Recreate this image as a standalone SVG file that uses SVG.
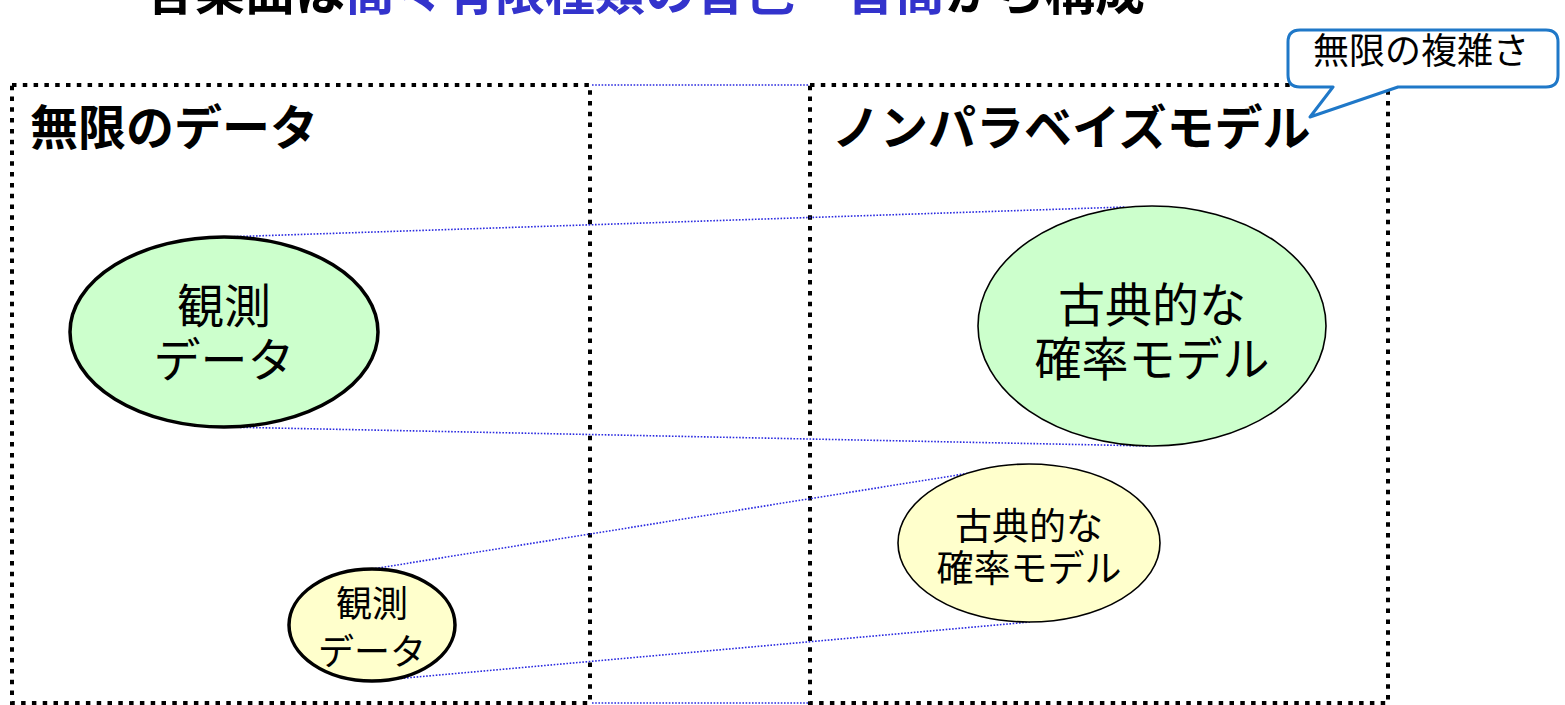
<svg xmlns="http://www.w3.org/2000/svg" width="1565" height="705" viewBox="0 0 1565 705">
  <style>
    text { font-family: "Noto Sans CJK JP", "Noto Sans", sans-serif; fill: #000; }
    .title { font-size: 50px; font-weight: bold; }
    .blue { fill: #3333cc; }
    .head { font-size: 48px; font-weight: bold; }
    .big { font-size: 47px; text-anchor: middle; }
    .small { font-size: 36px; text-anchor: middle; }
    .frame { fill: none; stroke: #000; stroke-width: 4; stroke-dasharray: 4.5 6.3; }
    .link { fill: none; stroke: #2a2ae0; stroke-width: 1.6; stroke-dasharray: 1.6 1.6; }
    .green { fill: #ccffcc; stroke: #000; }
    .yellow { fill: #ffffcc; stroke: #000; }
  </style>

  <text class="title" x="145" y="10">各楽曲は<tspan class="blue">高々有限種類の音色・音高</tspan>から構成</text>

  <g id="frames">
    <rect id="left-frame" class="frame" x="12" y="85" width="578" height="618"/>
    <rect id="right-frame" class="frame" x="810" y="85" width="578" height="618"/>
  </g>

  <g id="connectors">
    <line class="link" x1="592" y1="85" x2="808" y2="85"/>
    <line class="link" x1="592" y1="703" x2="808" y2="703"/>
    <line class="link" x1="224" y1="237" x2="1125" y2="207"/>
    <line class="link" x1="224" y1="427" x2="1150" y2="446"/>
    <line class="link" x1="372" y1="569" x2="970" y2="473"/>
    <line class="link" x1="372" y1="681" x2="1030" y2="622"/>
  </g>

  <g id="label-infinite-data">
    <text class="head" x="30" y="145">無限のデータ</text>
  </g>
  <g id="label-npbayes">
    <text class="head" x="832" y="145">ノンパラベイズモデル</text>
  </g>

  <g id="obs-big">
    <ellipse class="green" cx="224" cy="332" rx="154" ry="95" stroke-width="3.5"/>
    <text class="big" x="224" y="323">観測</text>
    <text class="big" x="224" y="377">データ</text>
  </g>

  <g id="model-big">
    <ellipse class="green" cx="1152" cy="326" rx="174" ry="120" stroke-width="1.6"/>
    <text class="big" x="1152" y="322">古典的な</text>
    <text class="big" x="1152" y="376">確率モデル</text>
  </g>

  <g id="obs-small">
    <ellipse class="yellow" cx="372" cy="625" rx="83" ry="56" stroke-width="3.5"/>
    <text class="small" x="372" y="617">観測</text>
    <text class="small" x="372" y="665">データ</text>
  </g>

  <g id="model-small">
    <ellipse class="yellow" cx="1029" cy="543" rx="131" ry="79" stroke-width="1.6"/>
    <text class="small" x="1029" y="540" style="font-size:37px">古典的な</text>
    <text class="small" x="1029" y="582" style="font-size:37px">確率モデル</text>
  </g>

  <g id="callout">
    <path d="M1300,30 H1546 Q1558,30 1558,42 V75 Q1558,87 1546,87 H1398 L1310,117 L1333,87 H1300 Q1288,87 1288,75 V42 Q1288,30 1300,30 Z" fill="#fff" stroke="#1f78c8" stroke-width="3" stroke-linejoin="round"/>
    <text x="1421" y="64" style="font-size:36px;text-anchor:middle">無限の複雑さ</text>
  </g>
</svg>
